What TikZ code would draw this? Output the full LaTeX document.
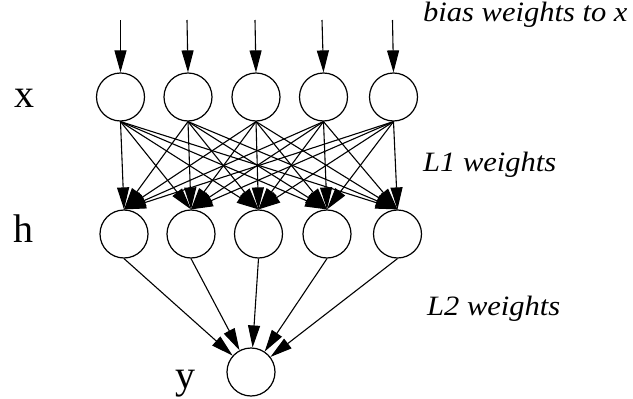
\documentclass[tikz,border=0pt]{standalone}
\usepackage{fontspec}
\setmainfont{Liberation Serif}
\newfontfamily\notefont[FakeStretch=1.09]{Liberation Serif}
\usetikzlibrary{arrows.meta}
\begin{document}
\begin{tikzpicture}[x=1pt,y=-1pt,
  unit/.style={circle,draw,line width=1.2pt,minimum size=48pt,inner sep=0pt},
  wt/.style={line width=1.1pt,-{Triangle[length=22pt,width=12pt]}},
  big/.style={font=\fontsize{40}{40}\selectfont,inner sep=0pt,anchor=base},
  note/.style={font=\notefont\fontsize{28}{28}\selectfont\itshape,inner sep=0pt,anchor=base west}]
\useasboundingbox (0,0) rectangle (633,399);
% x layer
\node[unit] (x1) at (120.5,97) {};
\node[unit] (x2) at (188,97) {};
\node[unit] (x3) at (256,97) {};
\node[unit] (x4) at (323.5,97) {};
\node[unit] (x5) at (393.5,97) {};
% h layer
\node[unit] (h1) at (124,234) {};
\node[unit] (h2) at (191,234) {};
\node[unit] (h3) at (258.5,234) {};
\node[unit] (h4) at (327,234) {};
\node[unit] (h5) at (397.5,234) {};
% y
\node[unit] (y) at (251,372) {};
% bias inputs
\foreach \i/\xx in {1/120.5,2/187,3/255,4/322,5/392.5}{
  \coordinate (b\i) at (\xx,20);
  \draw[wt] (b\i) -- (x\i.north);
}
% L1 weights
\foreach \i in {1,...,5}{
  \foreach \j in {1,...,5}{
    \draw[wt] (x\i.south) -- (h\j.north);
  }
}
% L2 weights
\foreach \j in {1,...,5}{
  \draw[wt] (h\j.south) -- (y);
}
% labels
\node[big] (lx) at (24,107) {x};
\node[big] (lh) at (23,242) {h};
\node[big] (ly) at (185,388) {y};
\node[note] (nb) at (423,21.5) {bias weights to x};
\node[note] (n1) at (423,171) {L1 weights};
\node[note] (n2) at (427,315) {L2 weights};
\end{tikzpicture}
\end{document}
